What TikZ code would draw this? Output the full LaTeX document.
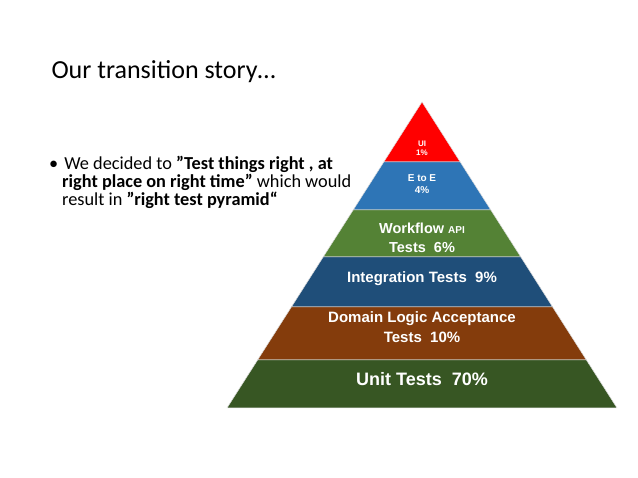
\documentclass[tikz,border=0pt]{standalone}
\usepackage{fontspec}
\setmainfont{Carlito}
\newfontfamily\arialf{Liberation Sans}
\begin{document}
\begin{tikzpicture}[x=1pt,y=-1pt,
  layer/.style={draw=gray!25,line width=0.5pt},
  lbl/.style={text=white,font=\arialf\bfseries,align=center,inner sep=0pt}]
\useasboundingbox (0,0) rectangle (638,478);
\node[anchor=west,font=\fontsize{26}{30}\selectfont] (title) at (48,72) {Our transition story…};
\node[anchor=north west,align=left,font=\fontsize{18.3}{18.2}\selectfont,inner sep=0pt] (bullet) at (49,156)
 {•\hspace{6pt}We decided to \textbf{\char34 Test things right , at}\\
  \hspace{13pt}\textbf{right place on right time\char34} which would\\
  \hspace{13pt}result in \textbf{\char34 right test pyramid“}};
\fill[layer,fill=red] (422,102) -- (460.2,162) -- (383.8,162) -- cycle;
\fill[layer,fill={rgb,255:red,46;green,117;blue,182}] (383.8,162) -- (460.2,162) -- (490.8,210) -- (353.2,210) -- cycle;
\fill[layer,fill={rgb,255:red,84;green,130;blue,53}] (353.2,210) -- (490.8,210) -- (520.8,257) -- (323.2,257) -- cycle;
\fill[layer,fill={rgb,255:red,31;green,78;blue,121}] (323.2,257) -- (520.8,257) -- (552.6,307) -- (291.4,307) -- cycle;
\fill[layer,fill={rgb,255:red,132;green,60;blue,12}] (291.4,307) -- (552.6,307) -- (586.4,360) -- (257.6,360) -- cycle;
\fill[layer,fill={rgb,255:red,55;green,86;blue,35}] (257.6,360) -- (586.4,360) -- (617,408) -- (227,408) -- cycle;
\node[lbl,font=\arialf\bfseries\fontsize{8}{9}\selectfont] (ui) at (422,148) {UI\\1\%};
\node[lbl,font=\arialf\bfseries\fontsize{10}{12}\selectfont] (e2e) at (422,184) {E to E\\4\%};
\node[lbl,font=\arialf\bfseries\fontsize{14.5}{19}\selectfont] (wf) at (422,238) {Workflow {\fontsize{10}{10}\selectfont API}\\Tests\ \ 6\%};
\node[lbl,font=\arialf\bfseries\fontsize{15}{16}\selectfont] (integ) at (422,279) {Integration Tests\ \ 9\%};
\node[lbl,font=\arialf\bfseries\fontsize{15}{20}\selectfont] (dom) at (422,327) {Domain Logic Acceptance\\Tests\ \ 10\%};
\node[lbl,font=\arialf\bfseries\fontsize{18}{19}\selectfont] (unit) at (422,379) {Unit Tests\ \ 70\%};
\end{tikzpicture}
\end{document}
